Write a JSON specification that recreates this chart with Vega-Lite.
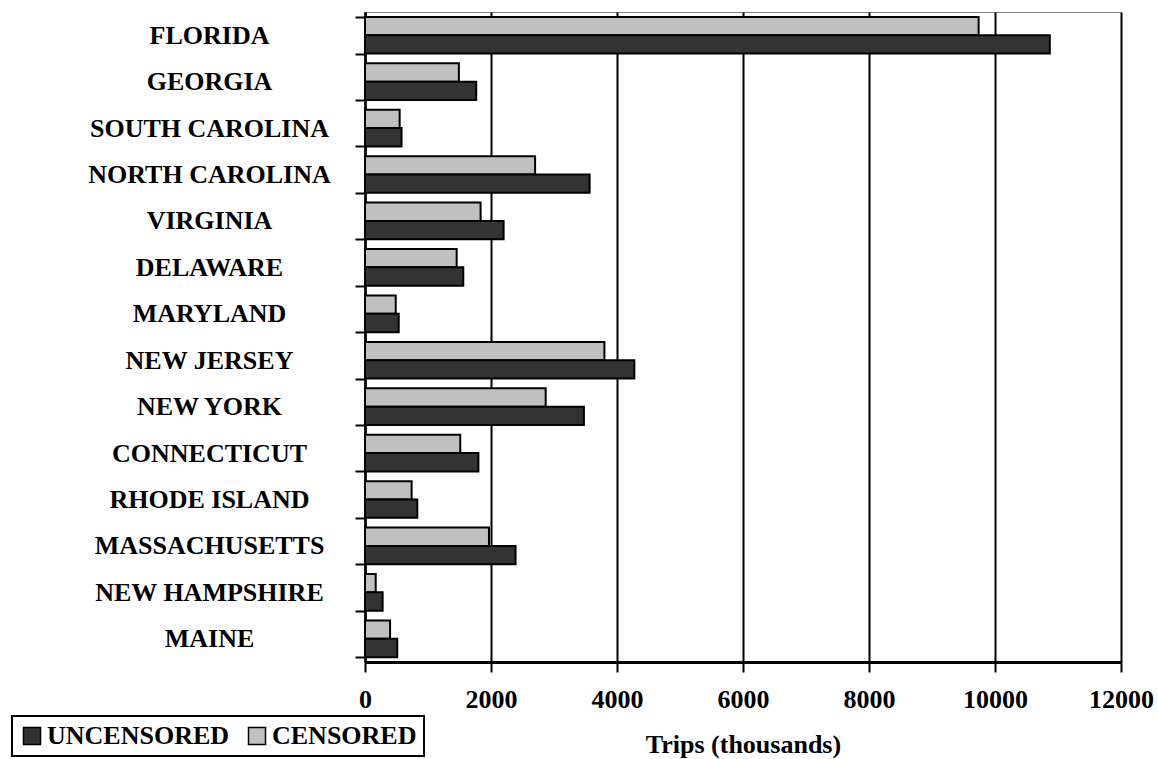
{
  "$schema": "https://vega.github.io/schema/vega-lite/v6.json",
  "width": 756,
  "height": 650,
  "autosize": {"type": "none"},
  "padding": {"left": 365, "top": 12, "right": 36, "bottom": 97},
  "background": "white",
  "config": {
    "view": {"stroke": "#808080", "strokeWidth": 1},
    "font": "Liberation Serif",
    "legend": {"strokeWidth": 2}
  },
  "data": {
    "values": [
      {"state": "FLORIDA", "type": "CENSORED", "trips": 9740},
      {"state": "FLORIDA", "type": "UNCENSORED", "trips": 10870},
      {"state": "GEORGIA", "type": "CENSORED", "trips": 1490},
      {"state": "GEORGIA", "type": "UNCENSORED", "trips": 1765},
      {"state": "SOUTH CAROLINA", "type": "CENSORED", "trips": 550},
      {"state": "SOUTH CAROLINA", "type": "UNCENSORED", "trips": 580},
      {"state": "NORTH CAROLINA", "type": "CENSORED", "trips": 2700},
      {"state": "NORTH CAROLINA", "type": "UNCENSORED", "trips": 3565},
      {"state": "VIRGINIA", "type": "CENSORED", "trips": 1835},
      {"state": "VIRGINIA", "type": "UNCENSORED", "trips": 2200},
      {"state": "DELAWARE", "type": "CENSORED", "trips": 1455},
      {"state": "DELAWARE", "type": "UNCENSORED", "trips": 1560},
      {"state": "MARYLAND", "type": "CENSORED", "trips": 488},
      {"state": "MARYLAND", "type": "UNCENSORED", "trips": 535},
      {"state": "NEW JERSEY", "type": "CENSORED", "trips": 3800},
      {"state": "NEW JERSEY", "type": "UNCENSORED", "trips": 4275},
      {"state": "NEW YORK", "type": "CENSORED", "trips": 2868},
      {"state": "NEW YORK", "type": "UNCENSORED", "trips": 3475},
      {"state": "CONNECTICUT", "type": "CENSORED", "trips": 1512},
      {"state": "CONNECTICUT", "type": "UNCENSORED", "trips": 1800},
      {"state": "RHODE ISLAND", "type": "CENSORED", "trips": 740},
      {"state": "RHODE ISLAND", "type": "UNCENSORED", "trips": 830},
      {"state": "MASSACHUSETTS", "type": "CENSORED", "trips": 1968},
      {"state": "MASSACHUSETTS", "type": "UNCENSORED", "trips": 2390},
      {"state": "NEW HAMPSHIRE", "type": "CENSORED", "trips": 170},
      {"state": "NEW HAMPSHIRE", "type": "UNCENSORED", "trips": 280},
      {"state": "MAINE", "type": "CENSORED", "trips": 398},
      {"state": "MAINE", "type": "UNCENSORED", "trips": 512}
    ]
  },
  "mark": {"type": "bar", "stroke": "black", "strokeWidth": 2, "opacity": 1},
  "encoding": {
    "y": {
      "field": "state",
      "type": "nominal",
      "sort": null,
      "scale": {"paddingInner": 0.21, "paddingOuter": 0.105},
      "axis": {
        "title": null,
        "grid": false,
        "domainColor": "black",
        "domainWidth": 2.5,
        "tickBand": "extent",
        "tickSize": 10,
        "tickWidth": 2,
        "tickColor": "black",
        "labelAlign": "center",
        "labelBaseline": "middle",
        "labelPadding": 146,
        "labelFont": "Liberation Serif",
        "labelFontWeight": "bold",
        "labelFontSize": 26,
        "labelColor": "black",
        "labelLimit": 0
      }
    },
    "yOffset": {
      "field": "type",
      "type": "nominal",
      "sort": ["CENSORED", "UNCENSORED"],
      "scale": {"domain": ["CENSORED", "UNCENSORED"], "paddingInner": 0, "paddingOuter": 0}
    },
    "x": {
      "field": "trips",
      "type": "quantitative",
      "scale": {"domain": [0, 12000], "nice": false},
      "axis": {
        "title": "Trips (thousands)",
        "values": [0, 2000, 4000, 6000, 8000, 10000, 12000],
        "grid": true,
        "gridColor": "black",
        "gridWidth": 2,
        "gridOpacity": 1,
        "domainColor": "black",
        "domainWidth": 3,
        "tickSize": 10,
        "tickWidth": 2,
        "tickColor": "black",
        "labelPadding": 14,
        "labelFont": "Liberation Serif",
        "labelFontWeight": "bold",
        "labelFontSize": 26,
        "labelColor": "black",
        "labelFlush": false,
        "labelOverlap": false,
        "format": "d",
        "titleFont": "Liberation Serif",
        "titleFontWeight": "bold",
        "titleFontSize": 26,
        "titleColor": "black",
        "titlePadding": 19
      }
    },
    "color": {
      "field": "type",
      "type": "nominal",
      "scale": {"domain": ["UNCENSORED", "CENSORED"], "range": ["#333333", "#c0c0c0"]},
      "legend": {
        "title": null,
        "orient": "none",
        "legendX": -353,
        "legendY": 704,
        "direction": "horizontal",
        "symbolType": "square",
        "symbolSize": 289,
        "symbolStrokeColor": "black",
        "symbolStrokeWidth": 1.5,
        "symbolOpacity": 1,
        "labelFont": "Liberation Serif",
        "labelFontWeight": "bold",
        "labelFontSize": 26,
        "labelColor": "black",
        "labelLimit": 0,
        "labelOffset": 2,
        "columnPadding": 14,
        "padding": 7,
        "strokeColor": "black",
        "fillColor": "white"
      }
    }
  }
}
